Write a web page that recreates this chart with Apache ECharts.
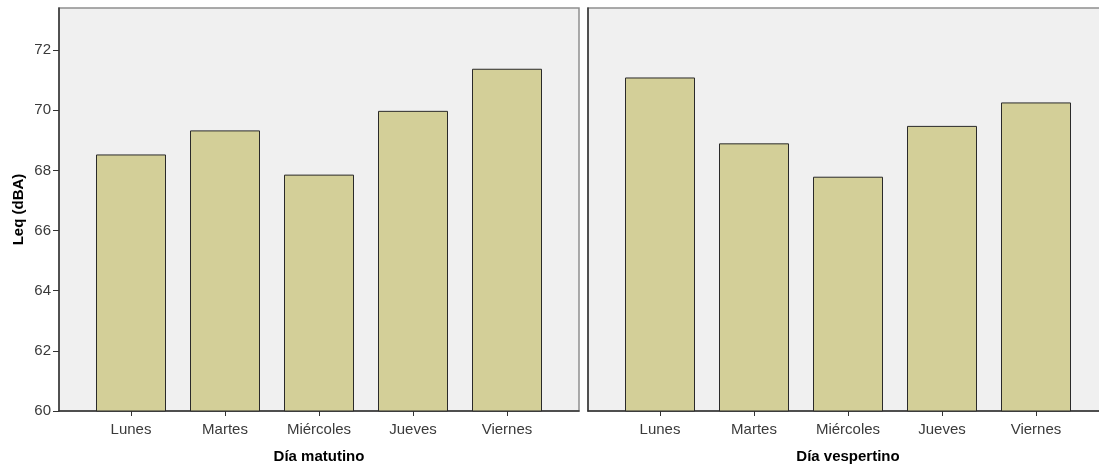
<!DOCTYPE html>
<html>
<head>
<meta charset="utf-8">
<style>
  html, body { margin: 0; padding: 0; background: #fff; }
  #chart { width: 1099px; height: 465px; }
</style>
<script src="https://cdn.jsdelivr.net/npm/echarts@6/dist/echarts.min.js"></script>
</head>
<body>
<div id="chart"></div>
<script>
// Días de la semana y niveles equivalentes Leq (dBA)
const dias = ['Lunes', 'Martes', 'Miércoles', 'Jueves', 'Viernes'];
const leqMatutino = [68.53, 69.33, 67.86, 69.98, 71.38];
const leqVespertino = [71.09, 68.90, 67.79, 69.48, 70.26];
const yTicks = [60, 62, 64, 66, 68, 70, 72];

const Y_MIN = 60, Y_MAX = 73.4, Y_STEP = 2;
const FONT = 'Liberation Sans, Arial, sans-serif';
const DARK = '#333333';
const BAR = '#d3cf98';

const chart = echarts.init(document.getElementById('chart'));

// Each panel has a frame grid (background, border, axes lines)
// and an inner data grid inset so the bars keep side padding.
const frame = (left) => ({
  left: left, top: 8, width: 520, height: 403,
  outerBoundsMode: 'none',
  show: true, backgroundColor: '#f0f0f0',
  borderColor: '#8e8e8e', borderWidth: 1.5
});
const inner = (left) => ({
  left: left + 25, top: 8, width: 470, height: 403, outerBoundsMode: 'none'
});

const frameX = (gridIndex, name) => ({
  type: 'value', gridIndex, min: 0, max: 1,
  axisLine: { show: true, onZero: false, lineStyle: { color: DARK, width: 1.5 } },
  axisTick: { show: false }, axisLabel: { show: false }, splitLine: { show: false },
  name, nameLocation: 'middle', nameGap: 38,
  nameTextStyle: { fontFamily: FONT, fontSize: 15, fontWeight: 'bold', color: '#000' }
});
const dataX = (gridIndex) => ({
  type: 'category', gridIndex, data: dias,
  axisLine: { show: false },
  axisTick: { show: true, alignWithLabel: true, length: 5, lineStyle: { color: DARK } },
  axisLabel: { margin: 11, fontFamily: FONT, fontSize: 15, color: '#3a3a3a' },
  splitLine: { show: false }
});
const hiddenY = (gridIndex) => ({
  type: 'value', gridIndex, min: Y_MIN, max: Y_MAX, show: false
});

const option = {
  animation: false,
  grid: [frame(59), inner(59), frame(588), inner(588)],
  xAxis: [
    frameX(0, 'Día matutino'), dataX(1),
    frameX(2, 'Día vespertino'), dataX(3)
  ],
  yAxis: [
    {
      type: 'value', gridIndex: 0, min: Y_MIN, max: Y_MAX, interval: Y_STEP,
      axisLine: { show: true, lineStyle: { color: DARK, width: 1.5 } },
      axisTick: { show: true, length: 6, lineStyle: { color: DARK } },
      axisLabel: {
        margin: 8, fontFamily: FONT, fontSize: 15, color: '#3a3a3a',
        showMaxLabel: false,
        formatter: (v) => yTicks.includes(v) ? String(v) : ''
      },
      splitLine: { show: false },
      name: 'Leq (dBA)', nameLocation: 'middle', nameRotate: 90, nameGap: 33,
      nameTextStyle: { fontFamily: FONT, fontSize: 15, fontWeight: 'bold', color: '#000' }
    },
    hiddenY(1),
    {
      type: 'value', gridIndex: 2, min: Y_MIN, max: Y_MAX, interval: Y_STEP,
      axisLine: { show: true, lineStyle: { color: DARK, width: 1.5 } },
      axisTick: { show: false }, axisLabel: { show: false }, splitLine: { show: false }
    },
    hiddenY(3)
  ],
  series: [
    {
      type: 'bar', xAxisIndex: 1, yAxisIndex: 1, data: leqMatutino, barWidth: 70,
      itemStyle: { color: BAR, borderColor: '#2a2a2a', borderWidth: 1 }
    },
    {
      type: 'bar', xAxisIndex: 3, yAxisIndex: 3, data: leqVespertino, barWidth: 70,
      itemStyle: { color: BAR, borderColor: '#2a2a2a', borderWidth: 1 }
    }
  ]
};

chart.setOption(option);
</script>
</body>
</html>
